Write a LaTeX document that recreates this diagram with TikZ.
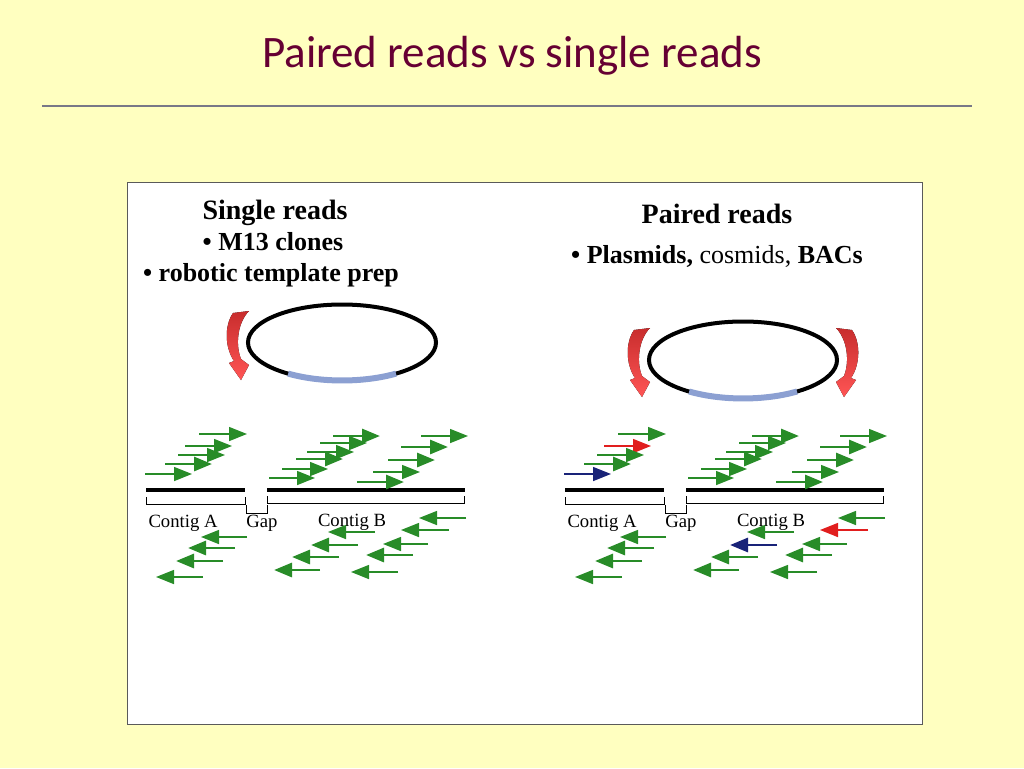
\documentclass[tikz,border=0pt]{standalone}
\usepackage{fontspec}
\setmainfont{Liberation Serif}
\newfontfamily\titlefont{Carlito}
\usetikzlibrary{arrows.meta}
\definecolor{slidebg}{RGB}{255,255,192}
\definecolor{titlecol}{RGB}{102,0,51}
\definecolor{rulecol}{RGB}{120,120,135}
\definecolor{boxcol}{RGB}{90,90,90}
\definecolor{readgreen}{RGB}{40,140,40}
\definecolor{readred}{RGB}{225,30,30}
\definecolor{readblue}{RGB}{25,35,120}
\definecolor{insertcol}{RGB}{140,160,210}
\definecolor{curltop}{RGB}{200,45,45}
\definecolor{curlbot}{RGB}{255,85,85}
\tikzset{
  rd/.style={line width=1.1pt, -{Triangle[length=13.5pt,width=10.5pt]}},
  rdT/.style={rd, line width=2.2pt},
  ctg/.style={line width=3pt},
  brk/.style={line width=0.75pt},
  lbl/.style={anchor=base, font=\fontsize{14}{16}\selectfont},
  head/.style={anchor=base, font=\bfseries\fontsize{21}{25}\selectfont},
  bullet/.style={anchor=base, font=\bfseries\fontsize{19.5}{23}\selectfont},
  ring/.style={line width=3pt},
  insert/.style={insertcol, line width=4.5pt},
  curl/.pic={
    \fill[top color=curltop, bottom color=curlbot] (-8,-67) -- (8,-69)
      .. controls (-3,-58) and (-6,-36) .. (0,-21) -- (8,-15) -- (0,0)
      -- (-12,-17) -- (-7,-19) .. controls (-16,-32) and (-17,-54) .. (-8,-67) -- cycle;
  }
}

\begin{document}
\begin{tikzpicture}[x=0.75pt, y=-0.75pt]
\useasboundingbox (0,0) rectangle (1024,768);
\fill[slidebg] (0,0) rectangle (1024,768);
% title and rule
\node[anchor=base, font=\titlefont\fontsize{33.75}{40}\selectfont, text=titlecol] (title) at (512,67) {Paired reads vs single reads};
\draw[rulecol, line width=1.5pt] (42,106) -- (972,106);
\draw[fill=white, draw=boxcol, line width=0.75pt] (127,182) rectangle (922,724);
% headings
\node[head] (single) at (275,219) {Single reads};
\node[bullet] (m13) at (273,250) {\textbullet{} M13 clones};
\node[bullet] (robotic) at (271,281) {\textbullet{} robotic template prep};
\node[head] (paired) at (717,223) {Paired reads};
\node[bullet] (plasmids) at (717,263) {\textbullet{} Plasmids, {\mdseries cosmids,} BACs};
% clones
\draw[ring] (342,342.5) ellipse [x radius=94, y radius=38];
\draw[insert] (396,373.6) arc [start angle=55, end angle=125, x radius=94, y radius=38];
\draw[ring] (743,360) ellipse [x radius=94, y radius=38.5];
\draw[insert] (797,391.5) arc [start angle=55, end angle=125, x radius=94, y radius=38.5];
\pic at (241,380) {curl};
\pic at (642,397) {curl};
\pic[xscale=-1] at (844,397) {curl};
% contigs and reads
\foreach \dx/\cr/\cb [count=\i] in {0/readgreen/readgreen, 419/readred/readblue}{
\begin{scope}[shift={(\dx,0)}]
  \draw[ctg] (146,490) -- (245,490);
  \draw[ctg] (267,490) -- (465,490);
  \draw[brk] (146,497) -- (146,504) -- (245,504) -- (245,497);
  \draw[brk] (246,505) -- (246,513) -- (267,513) -- (267,505);
  \draw[brk] (267,496) -- (267,503) -- (464,503) -- (464,496);
  \node[lbl] (ctgA-\i) at (183,527) {Contig A};
  \node[lbl] (gap-\i) at (262,527) {Gap};
  \node[lbl] (ctgB-\i) at (352,526) {Contig B};
  \foreach \xa/\xb/\y/\w/\c in {
      199/247/434/rd/readgreen, 185/232/446/rd/\cr, 178/225/455/rd/readgreen,
      165/212/464/rdT/readgreen, 145/192/474/rd/\cb,
      333/380/436/rdT/readgreen, 320/367/443/rd/readgreen, 307/354/452/rd/readgreen,
      296/343/459/rdT/readgreen, 282/328/469/rd/readgreen, 269/315/478/rd/readgreen,
      421/468/436/rd/readgreen, 401/448/447/rdT/readgreen, 388/435/460/rdT/readgreen,
      373/420/472/rd/readgreen, 357/404/482/rdT/readgreen,
      247/201/537/rd/readgreen, 235/188/548/rdT/readgreen, 223/176/561/rdT/readgreen,
      203/156/577/rd/readgreen,
      375/328/532/rd/readgreen, 358/311/545/rdT/\cb, 339/292/557/rdT/readgreen,
      320/274/570/rdT/readgreen,
      466/419/518/rd/readgreen, 449/401/530/rd/\cr, 428/383/544/rd/readgreen,
      413/366/555/rdT/readgreen, 398/351/572/rd/readgreen}
    \draw[\w, color=\c] (\xa,\y) -- (\xb,\y);
\end{scope}}
\end{tikzpicture}
\end{document}
